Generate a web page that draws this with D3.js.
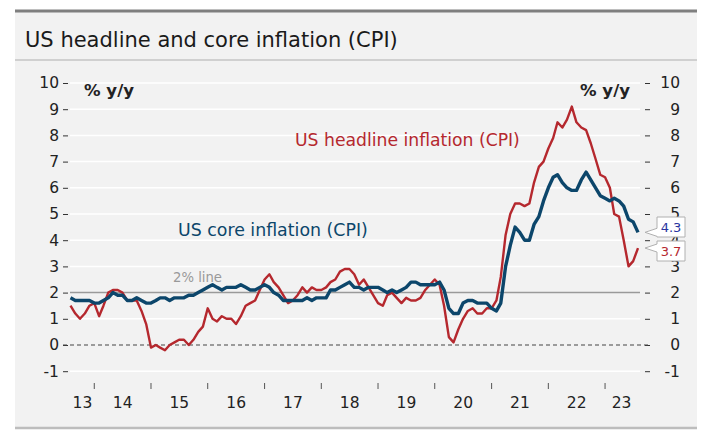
<!DOCTYPE html>
<html><head><meta charset="utf-8">
<script src="https://cdn.jsdelivr.net/npm/d3@7"></script>
<style>body{margin:0;background:#fff;} svg{display:block;}</style>
</head><body>
<svg id="c" width="715" height="433"></svg>
<script>
// monthly data Aug 2013 .. Aug 2023
const startMonth = "2013-08";
const headline = [1.5,1.2,1.0,1.2,1.5,
 1.6,1.1,1.5,2.0,2.1,2.1,2.0,1.7,1.7,1.7,1.3,0.8,
 -0.1,0.0,-0.1,-0.2,0.0,0.1,0.2,0.2,0.0,0.2,0.5,0.7,
 1.4,1.0,0.9,1.1,1.0,1.0,0.8,1.1,1.5,1.6,1.7,2.1,
 2.5,2.7,2.4,2.2,1.9,1.6,1.7,1.9,2.2,2.0,2.2,2.1,
 2.1,2.2,2.4,2.5,2.8,2.9,2.9,2.7,2.3,2.5,2.2,1.9,
 1.6,1.5,1.9,2.0,1.8,1.6,1.8,1.7,1.7,1.8,2.1,2.3,
 2.5,2.3,1.5,0.3,0.1,0.6,1.0,1.3,1.4,1.2,1.2,1.4,
 1.4,1.7,2.6,4.2,5.0,5.4,5.4,5.3,5.4,6.2,6.8,7.0,
 7.5,7.9,8.5,8.3,8.6,9.1,8.5,8.3,8.2,7.7,7.1,6.5,
 6.4,6.0,5.0,4.9,4.0,3.0,3.2,3.7];
const core = [1.8,1.7,1.7,1.7,1.7,
 1.6,1.6,1.7,1.8,2.0,1.9,1.9,1.7,1.7,1.8,1.7,1.6,
 1.6,1.7,1.8,1.8,1.7,1.8,1.8,1.8,1.9,1.9,2.0,2.1,
 2.2,2.3,2.2,2.1,2.2,2.2,2.2,2.3,2.2,2.1,2.1,2.2,
 2.3,2.2,2.0,1.9,1.7,1.7,1.7,1.7,1.7,1.8,1.7,1.8,
 1.8,1.8,2.1,2.1,2.2,2.3,2.4,2.2,2.2,2.1,2.2,2.2,
 2.2,2.1,2.0,2.1,2.0,2.1,2.2,2.4,2.4,2.3,2.3,2.3,
 2.3,2.4,2.1,1.4,1.2,1.2,1.6,1.7,1.7,1.6,1.6,1.6,
 1.4,1.3,1.6,3.0,3.8,4.5,4.3,4.0,4.0,4.6,4.9,5.5,
 6.0,6.4,6.5,6.2,6.0,5.9,5.9,6.3,6.6,6.3,6.0,5.7,
 5.6,5.5,5.6,5.5,5.3,4.8,4.7,4.3];
const yTicks = [-1,0,1,2,3,4,5,6,7,8,9,10];
const years = [2013,2014,2015,2016,2017,2018,2019,2020,2021,2022,2023];
const title = "US headline and core inflation (CPI)";

const svg = d3.select("#c");
const F = "'DejaVu Sans', 'Noto Sans', sans-serif";
const RED = "#b5282e", BLUE = "#0c466b";

function fit(sel, target){
  const n = sel.node(); const w = n.getComputedTextLength();
  const fs = parseFloat(sel.attr("font-size"));
  sel.attr("font-size", (fs*target/w).toFixed(2));
  return sel;
}

// panel
svg.append("rect").attr("x",15).attr("y",10).attr("width",682).attr("height",418).attr("fill","#f2f2f2");
svg.append("line").attr("x1",15).attr("x2",697).attr("y1",11).attr("y2",11).attr("stroke","#7f7f7f").attr("stroke-width",3);
svg.append("line").attr("x1",15).attr("x2",697).attr("y1",60).attr("y2",60).attr("stroke","#c4c4c4").attr("stroke-width",1.5);
svg.append("line").attr("x1",15).attr("x2",697).attr("y1",428).attr("y2",428).attr("stroke","#bdbdbd").attr("stroke-width",2.5);
fit(svg.append("text").attr("x",25).attr("y",47).attr("font-family",F).attr("font-size",20).attr("fill","#1a1a1a").text(title), 373);

const parse = d3.timeParse("%Y-%m");
const t0 = parse(startMonth);
const dates = headline.map((d,i)=>d3.timeMonth.offset(t0,i));
const x = d3.scaleTime().domain([t0, dates[dates.length-1]]).range([70.5,638]);
const y = d3.scaleLinear().domain([0,10]).range([345,83]);

const X0 = 70, X1 = 640;
// gridlines
svg.append("g").selectAll("line").data(yTicks.filter(v=>v!==0 && v!==2)).join("line")
  .attr("x1",X0).attr("x2",X1).attr("y1",d=>y(d)).attr("y2",d=>y(d))
  .attr("stroke","#ffffff").attr("stroke-width",1.5);

const TF = "'DejaVu Sans', sans-serif";
// left axis
const la = svg.append("g").attr("transform",`translate(${X0-2},0)`)
  .call(d3.axisLeft(y).tickValues(yTicks).tickSize(5).tickPadding(4).tickFormat(d=>String(d)));
la.select(".domain").remove();
la.selectAll("line").attr("stroke","#333");
la.selectAll("text").attr("font-family",TF).attr("font-size",15.5).attr("fill","#222");
// right axis
const ra = svg.append("g").attr("transform",`translate(${X1+5},0)`)
  .call(d3.axisRight(y).tickValues(yTicks).tickSize(5).tickPadding(8).tickFormat(d=>String(d)));
ra.select(".domain").remove();
ra.selectAll("line").attr("stroke","#333");
ra.selectAll("text").attr("font-family",TF).attr("font-size",15.5).attr("fill","#222")
  .attr("text-anchor","end").attr("x",35);

// zero dashed and 2% line
svg.append("line").attr("x1",63).attr("x2",650).attr("y1",y(0)).attr("y2",y(0))
  .attr("stroke","#444").attr("stroke-width",1).attr("stroke-dasharray","4,3");
svg.append("line").attr("x1",X0).attr("x2",X1).attr("y1",y(2)).attr("y2",y(2))
  .attr("stroke","#9a9a9a").attr("stroke-width",1.5);
fit(svg.append("text").attr("x",173).attr("y",282).attr("font-family",F).attr("font-size",12).attr("fill","#999").text("2% line"), 49);

// x axis ticks and labels
const dEnd = dates[dates.length-1];
svg.append("g").selectAll("line").data(years.slice(1)).join("line")
  .attr("x1",d=>x(new Date(d,0,1))).attr("x2",d=>x(new Date(d,0,1)))
  .attr("y1",383).attr("y2",389).attr("stroke","#555").attr("stroke-width",1);
svg.append("g").selectAll("text").data(years).join("text")
  .attr("x",d=>{const a=Math.max(+new Date(d,0,1),+t0), b=Math.min(+new Date(d+1,0,1),+dEnd); return (x(new Date(a))+x(new Date(b)))/2;})
  .attr("y",408).attr("text-anchor","middle").attr("font-family",TF).attr("font-size",15.5).attr("fill","#222")
  .text(d=>String(d).slice(2));

// lines
const line = d3.line().x((d,i)=>x(dates[i])).y(d=>y(d)).curve(d3.curveLinear);
svg.append("path").datum(headline).attr("d",line).attr("fill","none").attr("stroke",RED).attr("stroke-width",2.4).attr("stroke-linejoin","round");
svg.append("path").datum(core).attr("d",line).attr("fill","none").attr("stroke",BLUE).attr("stroke-width",3.4).attr("stroke-linejoin","round");

// unit labels
fit(svg.append("text").attr("x",84).attr("y",96).attr("font-family",F).attr("font-size",16).attr("font-weight","bold").attr("fill","#222").text("% y/y"), 50);
fit(svg.append("text").attr("x",580).attr("y",96).attr("font-family",F).attr("font-size",16).attr("font-weight","bold").attr("fill","#222").text("% y/y"), 50);

// series labels
fit(svg.append("text").attr("x",295).attr("y",146).attr("font-family",F).attr("font-size",17).attr("fill",RED).text("US headline inflation (CPI)"), 225);
fit(svg.append("text").attr("x",178).attr("y",236).attr("font-family",F).attr("font-size",17).attr("fill",BLUE).text("US core inflation (CPI)"), 190);

// end-value callouts
function callout(val, top, color){
  const tipY = y(val);
  const bx = 657, bw = 28, bh = 20;
  const p = `M${bx},${top} L${bx+bw},${top} L${bx+bw},${top+bh} L${bx},${top+bh} L${bx},${tipY+4} L${645},${tipY} L${bx},${tipY-4} Z`;
  svg.append("path").attr("d",p).attr("fill","#ffffff").attr("stroke","#b0b0b0").attr("stroke-width",1);
  svg.append("text").attr("x",bx+bw/2).attr("y",top+15).attr("text-anchor","middle").attr("font-family",F).attr("font-size",13).attr("fill",color).text(d3.format(".1f")(val));
}
callout(core[core.length-1], 217, "#2a35a0");
callout(headline[headline.length-1], 241, RED);
</script>
</body></html>
